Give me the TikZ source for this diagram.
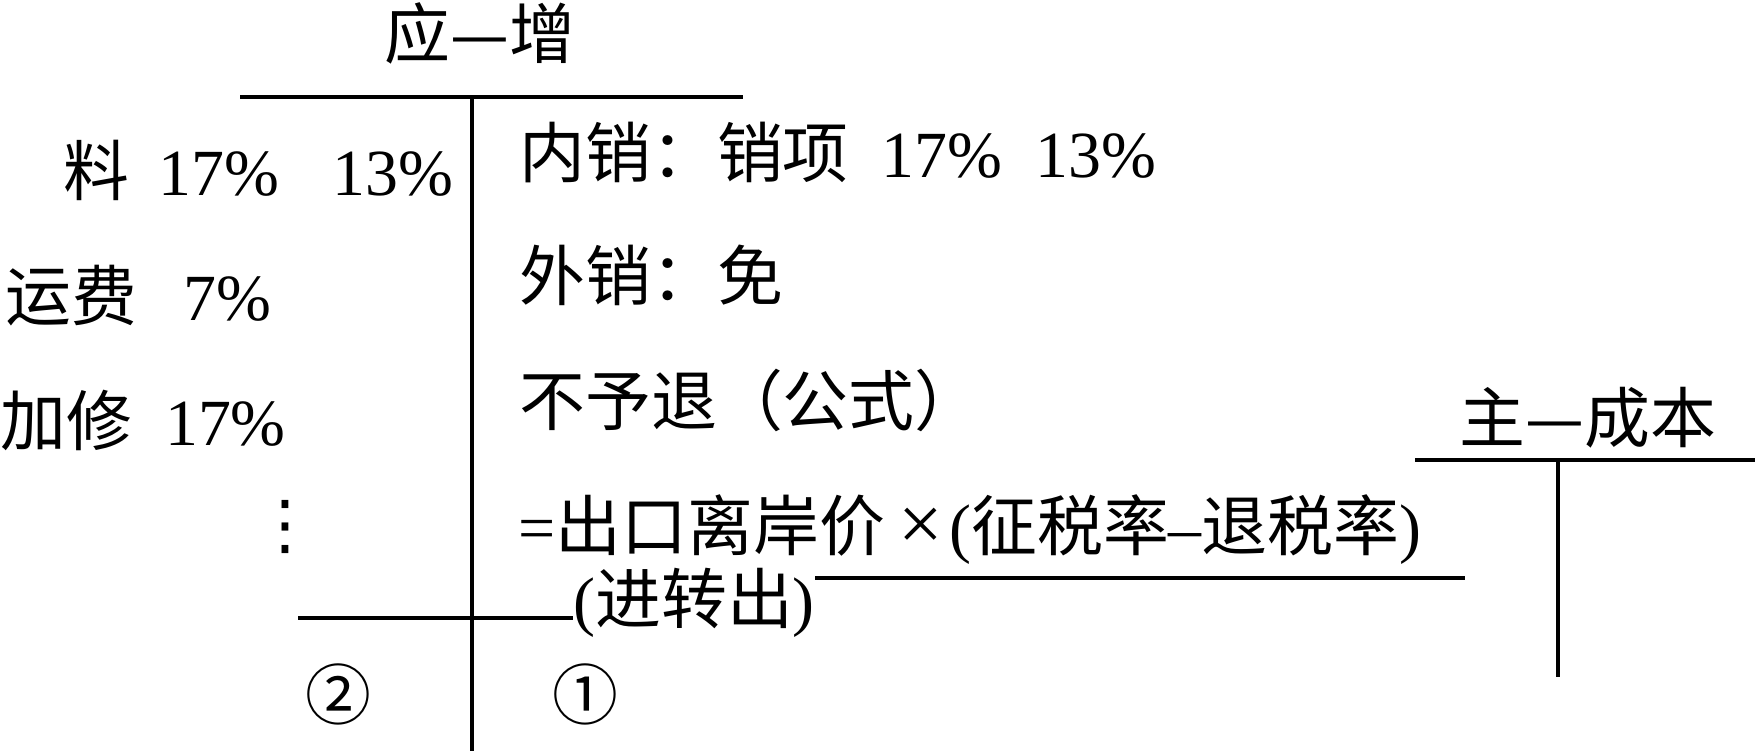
\documentclass[tikz,border=0pt]{standalone}
\usepackage{fontspec}
\setmainfont{Liberation Serif}
\newfontfamily\cjk{Noto Sans CJK SC}
\newfontfamily\dejavu{DejaVu Sans}
\newcommand\bigfont{\fontsize{37.5pt}{45pt}\selectfont}
\tikzset{
  txt/.style={anchor=base west, inner sep=0pt, font=\bigfont},
  circnum/.style={anchor=center, inner sep=0pt, font=\bigfont\cjk},
  tline/.style={line width=2.8pt}
}
\begin{document}
\begin{tikzpicture}[x=0.02cm, y=-0.02cm]
  \useasboundingbox (0,0) rectangle (1755,751);
  \draw
    (384,58) node[txt] (yz) {\cjk 应—增}
    (63,195) node[txt] (liao) {{\cjk 料}\hspace{0.45em}17\%\hspace{0.8em}13\%}
    (5,320) node[txt] (yunfei) {{\cjk 运费}\hspace{0.7em}7\%}
    (0,445) node[txt] (jiaxiu) {{\cjk 加修}\hspace{0.5em}17\%}
    (285,527) node[anchor=center, inner sep=0pt, font=\bigfont\dejavu] (dots) {⋮}
    (519,177) node[txt] (neixiao) {{\cjk 内销：销项}\hspace{0.5em}17\%\hspace{0.5em}13\%}
    (519,300) node[txt] (waixiao) {\cjk 外销：免}
    (519,425) node[txt] (buyutui) {\cjk 不予退（公式）}
    (518,550) node[txt] (gongshi) {={\cjk 出口离岸价}\hspace{0.2em}{\fontsize{45pt}{45pt}\selectfont ×}\hspace{0.1em}({\cjk 征税率}--{\cjk 退税率})}
    (573,623) node[txt] (jzc) {({\cjk 进转出})}
    (338,694) node[circnum] (two) {②}
    (585,694) node[circnum] (one) {①}
    (1459,442) node[txt] (zcb) {\cjk 主—成本};
  \coordinate (tl) at (240,97);
  \coordinate (tr) at (743,97);
  \coordinate (tb) at (472,751);
  \coordinate (bl) at (298,618);
  \coordinate (ur) at (1465,578);
  \coordinate (rl) at (1415,460);
  \coordinate (rr) at (1755,460);
  \coordinate (rb) at (1558,677);
  \begin{scope}[tline]
    \draw (tl) to (tr);
    \draw (tb |- tl) to (tb);
    \draw (bl) to (jzc.west |- bl);
    \draw (jzc.east |- ur) to (ur);
    \draw (rl) to (rr);
    \draw (rb |- rl) to (rb);
  \end{scope}
\end{tikzpicture}
\end{document}
